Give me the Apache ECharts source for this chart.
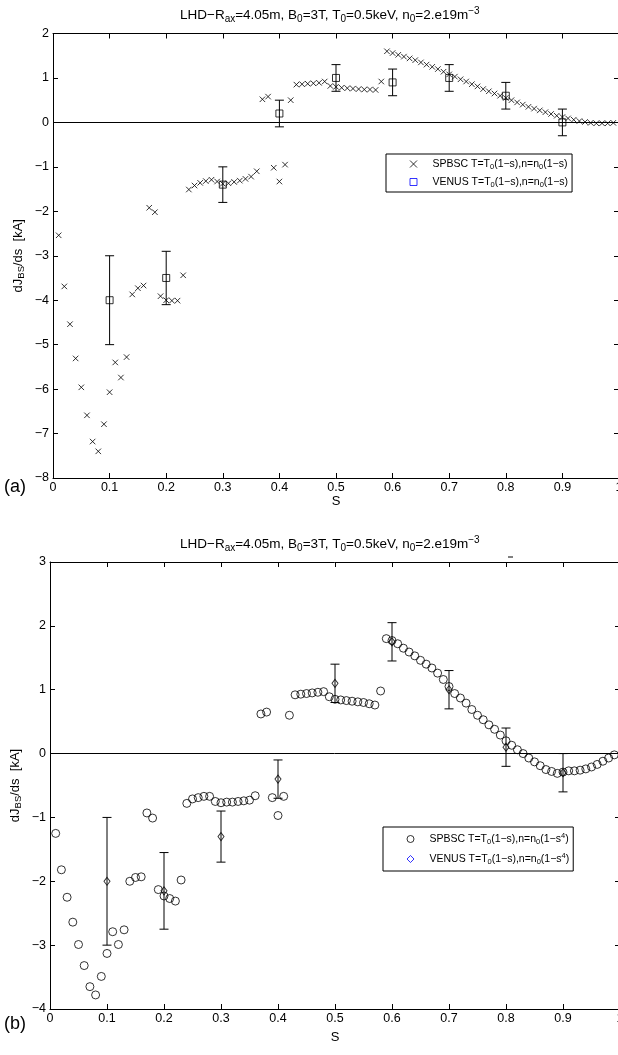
<!DOCTYPE html>
<html><head><meta charset="utf-8">
<script src="https://cdn.jsdelivr.net/npm/echarts@6/dist/echarts.min.js"></script>
<style>html,body{margin:0;padding:0;background:#fff}#c{width:618px;height:1055px}</style>
</head><body><div id="c"></div>
<script>
// ---- data ----
const sGrid = [0.01,0.02,0.03,0.04,0.05,0.06,0.07,0.08,0.09,0.10,
  0.11,0.12,0.13,0.14,0.15,0.16,0.17,0.18,0.19,0.20,
  0.21,0.22,0.23,0.24,0.25,0.26,0.27,0.28,0.29,0.30,
  0.31,0.32,0.33,0.34,0.35,0.36,0.37,0.38,0.39,0.40,
  0.41,0.42,0.43,0.44,0.45,0.46,0.47,0.48,0.49,0.50,
  0.51,0.52,0.53,0.54,0.55,0.56,0.57,0.58,0.59,0.60,
  0.61,0.62,0.63,0.64,0.65,0.66,0.67,0.68,0.69,0.70,
  0.71,0.72,0.73,0.74,0.75,0.76,0.77,0.78,0.79,0.80,
  0.81,0.82,0.83,0.84,0.85,0.86,0.87,0.88,0.89,0.90,
  0.91,0.92,0.93,0.94,0.95,0.96,0.97,0.98,0.99];
const spbscA = [-2.54,-3.69,-4.54,-5.31,-5.96,-6.59,-7.18,-7.40,-6.79,-6.07,
  -5.40,-5.74,-5.28,-3.87,-3.73,-3.67,-1.92,-2.02,-3.91,-4.00,
  -4.01,-4.01,-3.44,-1.51,-1.42,-1.36,-1.32,-1.29,-1.33,-1.38,
  -1.37,-1.34,-1.31,-1.27,-1.22,-1.10,0.52,0.58,-1.02,-1.33,
  -0.95,0.50,0.85,0.86,0.87,0.88,0.89,0.92,0.82,0.80,
  0.78,0.77,0.76,0.75,0.74,0.74,0.73,0.92,1.60,1.56,
  1.52,1.48,1.44,1.40,1.35,1.30,1.25,1.20,1.14,1.08,
  1.03,0.97,0.92,0.86,0.81,0.75,0.70,0.65,0.60,0.55,
  0.50,0.45,0.40,0.35,0.31,0.27,0.23,0.19,0.15,0.12,
  0.09,0.06,0.03,0.01,-0.01,-0.02,-0.02,-0.02,-0.01];
const spbscB = [-1.25,-1.82,-2.25,-2.64,-2.99,-3.32,-3.65,-3.78,-3.49,-3.13,
  -2.79,-2.99,-2.76,-2.00,-1.94,-1.93,-0.93,-1.01,-2.13,-2.23,
  -2.27,-2.31,-1.98,-0.78,-0.71,-0.69,-0.67,-0.67,-0.75,-0.77,
  -0.76,-0.76,-0.75,-0.74,-0.73,-0.66,0.62,0.65,-0.69,-0.97,
  -0.67,0.60,0.92,0.93,0.94,0.95,0.96,0.97,0.89,0.85,
  0.84,0.83,0.82,0.81,0.80,0.78,0.76,0.98,1.80,1.77,
  1.72,1.65,1.59,1.53,1.46,1.40,1.34,1.26,1.16,1.05,
  0.94,0.87,0.79,0.69,0.60,0.53,0.45,0.38,0.29,0.20,
  0.13,0.06,0.00,-0.07,-0.13,-0.19,-0.25,-0.28,-0.31,-0.29,
  -0.27,-0.27,-0.26,-0.24,-0.21,-0.17,-0.12,-0.07,-0.02];
const venusS = [0.1,0.2,0.3,0.4,0.5,0.6,0.7,0.8,0.9];
const venusA   = [-4.0,-3.5,-1.4, 0.2,1.0,0.9,1.0,0.6, 0.0];
const venusALo = [-5.0,-4.1,-1.8,-0.1,0.7,0.6,0.7,0.3,-0.3];
const venusAHi = [-3.0,-2.9,-1.0, 0.5,1.3,1.2,1.3,0.9, 0.3];
const venusB   = [-2.0,-2.15,-1.3,-0.4,1.1,1.75,1.0, 0.1,-0.3];
const venusBLo = [-3.0,-2.75,-1.7,-0.7,0.8,1.45,0.7,-0.2,-0.6];
const venusBHi = [-1.0,-1.55,-0.9,-0.1,1.4,2.05,1.3, 0.4, 0.0];
const yRangeA = [-8, 2];
const yRangeB = [-4, 3];
const titleText = 'LHD\u2212R{s|ax}=4.05m, B{s|0}=3T, T{s|0}=0.5keV, n{s|0}=2.e19m{p|\u22123}';
const legendText = {
  SPBSC_a: 'SPBSC T=T{s|0}(1\u2212s),n=n{s|0}(1\u2212s)',
  VENUS_a: 'VENUS T=T{s|0}(1\u2212s),n=n{s|0}(1\u2212s)',
  SPBSC_b: 'SPBSC T=T{s|0}(1\u2212s),n=n{s|0}(1\u2212s{p|4})',
  VENUS_b: 'VENUS T=T{s|0}(1\u2212s),n=n{s|0}(1\u2212s{p|4})'
};

// ---- styling helpers ----
const FF = '"Liberation Sans", Arial, Helvetica, sans-serif';
const chart = echarts.init(document.getElementById('c'), null, {renderer: 'canvas'});
const minus = v => String(v).replace('-', '\u2212');
const crossPath = 'path://M0,0L10,10M10,0L0,10';

function xAxes(grid, nameGap) {
  const common = {
    type: 'value', gridIndex: grid, min: 0, max: 1, interval: 0.1,
    axisLine: {show: true, onZero: false, lineStyle: {color: '#000', width: 1}},
    axisTick: {show: true, inside: true, length: 5, lineStyle: {color: '#000'}},
    splitLine: {show: false}
  };
  return [
    Object.assign({}, common, {
      position: 'bottom',
      axisLabel: {color: '#000', fontSize: 12.5, fontFamily: FF, margin: 3,
        formatter: v => String(+v.toFixed(1))},
      name: 'S', nameLocation: 'middle', nameGap: nameGap,
      nameTextStyle: {color: '#000', fontSize: 13, fontFamily: FF}
    }),
    Object.assign({}, common, {position: 'top', axisLabel: {show: false}})
  ];
}
function yAxes(grid, range) {
  const common = {
    type: 'value', gridIndex: grid, min: range[0], max: range[1], interval: 1,
    axisLine: {show: true, onZero: false, lineStyle: {color: '#000', width: 1}},
    axisTick: {show: true, inside: true, length: 5, lineStyle: {color: '#000'}},
    splitLine: {show: false}
  };
  return [
    Object.assign({}, common, {
      position: 'left',
      axisLabel: {color: '#000', fontSize: 12.5, fontFamily: FF, margin: 4, formatter: minus},
      name: 'dJ{s|BS}/ds  [kA]', nameLocation: 'middle', nameGap: 27, nameMoveOverlap: false,
      nameTextStyle: {color: '#000', fontSize: 13, fontFamily: FF, lineHeight: 16,
        rich: {s: {fontSize: 9.5, fontFamily: FF, color: '#000', lineHeight: 9, padding: [7, 0, 0, 0]}}}
    }),
    Object.assign({}, common, {position: 'right', axisLabel: {show: false}})
  ];
}
function errorBars(xs, lo, hi, axis) {
  return {
    type: 'custom', name: 'errbar' + axis, xAxisIndex: axis * 2, yAxisIndex: axis * 2,
    silent: true, z: 3,
    data: xs.map((s, i) => [s, lo[i], hi[i]]),
    encode: {x: 0, y: [1, 2]},
    renderItem: function (params, api) {
      const x = api.value(0);
      const a = api.coord([x, api.value(1)]);
      const b = api.coord([x, api.value(2)]);
      const w = 4.5;
      const st = {stroke: '#000', lineWidth: 1, fill: null};
      return {type: 'group', children: [
        {type: 'line', shape: {x1: a[0], y1: a[1], x2: b[0], y2: b[1]}, style: st},
        {type: 'line', shape: {x1: a[0] - w, y1: a[1], x2: a[0] + w, y2: a[1]}, style: st},
        {type: 'line', shape: {x1: b[0] - w, y1: b[1], x2: b[0] + w, y2: b[1]}, style: st}
      ]};
    }
  };
}
const zeroLine = {silent: true, symbol: 'none', label: {show: false},
  lineStyle: {color: '#000', width: 1, type: 'solid'}, emphasis: {disabled: true},
  data: [{yAxis: 0}]};
const richSub = {
  s: {fontSize: 7.5, fontFamily: FF, color: '#000', lineHeight: 7, padding: [6, 0, 0, 0]},
  p: {fontSize: 7.5, fontFamily: FF, color: '#000', lineHeight: 7, padding: [0, 0, 6, 0]}
};
function legend(left, top, names, icons, gap, vpad) {
  return {
    orient: 'vertical', left: left, top: top, padding: [vpad, 4, vpad, 23.5], itemGap: gap,
    itemWidth: 7, itemHeight: 7, borderColor: '#000', borderWidth: 1, borderRadius: 0,
    backgroundColor: '#fff', selectedMode: false, z: 10,
    data: names.map((n, i) => ({name: n, itemStyle: icons[i]})),
    formatter: n => legendText[n],
    textStyle: {color: '#000', fontSize: 10.5, fontFamily: FF, lineHeight: 14,
      padding: [0, 0, 0, 10.5], rich: richSub}
  };
}
const titleRich = {
  s: {fontSize: 10, fontFamily: FF, color: '#000', lineHeight: 9, padding: [8, 0, 0, 0]},
  p: {fontSize: 10, fontFamily: FF, color: '#000', lineHeight: 9, padding: [0, 0, 8, 0]}
};
function title(top) {
  return {text: titleText, left: 180, top: top, padding: 0,
    textStyle: {color: '#000', fontSize: 13.5, fontWeight: 'normal', fontFamily: FF, lineHeight: 18, rich: titleRich}};
}

const option = {
  animation: false,
  backgroundColor: '#fff',
  title: [title(6), title(535),
    {text: '(a)', left: 4, top: 478, padding: 0, textStyle: {color: '#000', fontSize: 18, fontWeight: 'normal', fontFamily: FF}},
    {text: '(b)', left: 4, top: 1015, padding: 0, textStyle: {color: '#000', fontSize: 18, fontWeight: 'normal', fontFamily: FF}}],
  grid: [
    {left: 53, top: 33.5, width: 566, height: 444.5, containLabel: false, outerBoundsMode: 'none'},
    {left: 50, top: 562, width: 570, height: 447, containLabel: false, outerBoundsMode: 'none'}
  ],
  xAxis: xAxes(0, 14).concat(xAxes(1, 22)),
  yAxis: yAxes(0, yRangeA).concat(yAxes(1, yRangeB)),
  legend: [
    legend(386, 154, ['SPBSC_a', 'VENUS_a'], [
      {color: 'rgba(0,0,0,0)', borderColor: '#000', borderWidth: 1},
      {color: 'rgba(0,0,0,0)', borderColor: '#0000ff', borderWidth: 1}], 4, 3),
    legend(383, 827, ['SPBSC_b', 'VENUS_b'], [
      {color: 'rgba(0,0,0,0)', borderColor: '#000', borderWidth: 1},
      {color: 'rgba(0,0,0,0)', borderColor: '#0000ff', borderWidth: 1}], 6, 5)
  ],
  series: [
    {type: 'scatter', name: 'SPBSC_a', xAxisIndex: 0, yAxisIndex: 0,
      symbol: crossPath, symbolSize: 5.5,
      itemStyle: {color: 'rgba(0,0,0,0)', borderColor: '#000', borderWidth: 1},
      emphasis: {disabled: true}, z: 2,
      data: sGrid.map((s, i) => [s, spbscA[i]]), markLine: zeroLine},
    {type: 'scatter', name: 'VENUS_a', xAxisIndex: 0, yAxisIndex: 0,
      symbol: 'rect', symbolSize: 7,
      itemStyle: {color: 'rgba(0,0,0,0)', borderColor: '#000', borderWidth: 1},
      emphasis: {disabled: true}, z: 4,
      data: venusS.map((s, i) => [s, venusA[i]])},
    errorBars(venusS, venusALo, venusAHi, 0),
    {type: 'scatter', name: 'SPBSC_b', xAxisIndex: 2, yAxisIndex: 2,
      symbol: 'circle', symbolSize: 8,
      itemStyle: {color: 'rgba(0,0,0,0)', borderColor: '#000', borderWidth: 1},
      emphasis: {disabled: true}, z: 2,
      data: sGrid.map((s, i) => [s, spbscB[i]]), markLine: zeroLine},
    {type: 'scatter', name: 'VENUS_b', xAxisIndex: 2, yAxisIndex: 2,
      symbol: 'diamond', symbolSize: [6, 8],
      itemStyle: {color: 'rgba(0,0,0,0)', borderColor: '#000', borderWidth: 1},
      emphasis: {disabled: true}, z: 4,
      data: venusS.map((s, i) => [s, venusB[i]])},
    errorBars(venusS, venusBLo, venusBHi, 1)
  ],
  graphic: [
    {type: 'line', shape: {x1: 508, y1: 557, x2: 513, y2: 557}, style: {stroke: '#000', lineWidth: 1}, silent: true}
  ]
};
chart.setOption(option);
</script></body></html>
